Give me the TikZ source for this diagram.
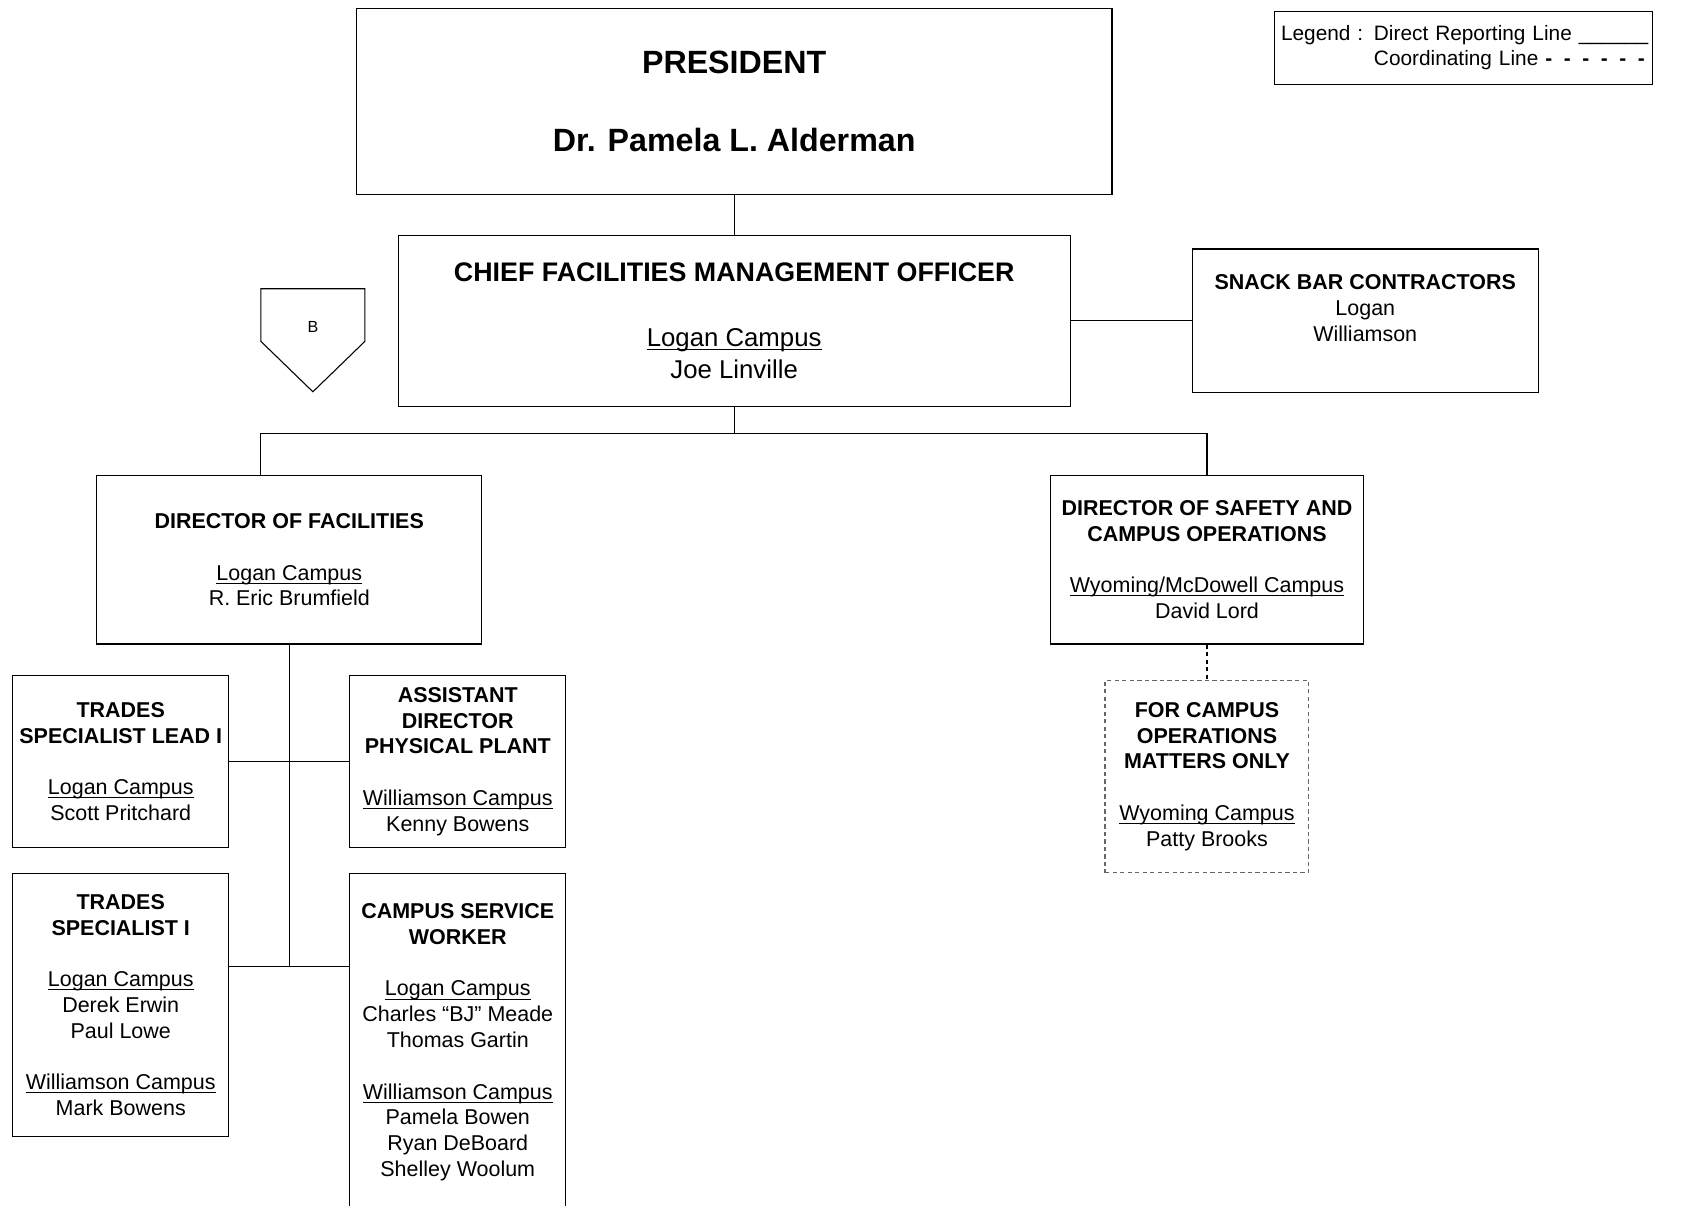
\documentclass[tikz,border=0pt]{standalone}
\usepackage{fontspec}
\setmainfont{Liberation Sans}
\usetikzlibrary{calc}
\usetikzlibrary{positioning}
\newcommand{\campus}[1]{\underline{\smash{#1}}}

\begin{document}
\begin{tikzpicture}[x=0.5pt, y=-0.5pt, line width=0.5pt,
        rolebox/.style={rectangle, draw=black, align=center, inner sep=2pt, font=\fontsize{10}{12}\selectfont},
        opsbox/.style={rolebox, draw=black!60, dash pattern=on 2pt off 1.5pt}]
        \useasboundingbox (0,0) rectangle (1568,1123);
        \clip (0,0) rectangle (1568,1123);

        \node[rolebox, minimum width=352pt, minimum height=86.5pt, font=\fontsize{15}{18}\selectfont\bfseries] (president) at (684,94.5) {PRESIDENT\\[18pt]Dr. Pamela L. Alderman};
        \node[rolebox, minimum width=313pt, minimum height=80pt, font=\fontsize{12}{15}\selectfont] (chief) [below=18.5pt of president] {{\fontsize{12.5}{15}\selectfont\bfseries CHIEF FACILITIES MANAGEMENT OFFICER}\\[15pt]\campus{Logan Campus}\\Joe Linville};
        \node[rolebox, minimum width=161pt, minimum height=67pt] (snack) [right=56.5pt of chief] {\textbf{SNACK BAR CONTRACTORS}\\Logan\\Williamson\\\phantom{Williamson}};
        \node[rolebox, minimum width=179.5pt, minimum height=78.5pt] (facilities) at (269.5,521.5) {\textbf{DIRECTOR OF FACILITIES}\\[12pt]\campus{Logan Campus}\\R. Eric Brumfield};
        \node[rolebox, minimum width=145.5pt, minimum height=78.5pt] (safety) at (1124.5,521.5) {\textbf{DIRECTOR OF SAFETY AND}\\\textbf{CAMPUS OPERATIONS}\\[12pt]\campus{Wyoming/McDowell Campus}\\David Lord};
        \node[opsbox, minimum width=95pt, minimum height=89.5pt] (campusops) [below=16.5pt of safety] {\textbf{FOR CAMPUS}\\\textbf{OPERATIONS}\\\textbf{MATTERS ONLY}\\[12pt]\campus{Wyoming Campus}\\Patty Brooks};
        \node[rolebox, minimum width=100.5pt, minimum height=80.5pt] (tradeslead) at (112.5,709.5) {\textbf{TRADES}\\\textbf{SPECIALIST LEAD I}\\[12pt]\campus{Logan Campus}\\Scott Pritchard};
        \node[rolebox, minimum width=100.5pt, minimum height=80.5pt] (assistant) [right=56pt of tradeslead] {\textbf{ASSISTANT}\\\textbf{DIRECTOR}\\\textbf{PHYSICAL PLANT}\\[12pt]\campus{Williamson Campus}\\Kenny Bowens};
        \node[rolebox, minimum width=100.5pt, minimum height=122.5pt] (trades) [below=11.5pt of tradeslead] {\textbf{TRADES}\\\textbf{SPECIALIST I}\\[12pt]\campus{Logan Campus}\\Derek Erwin\\Paul Lowe\\[12pt]\campus{Williamson Campus}\\Mark Bowens};
        \node[rolebox, minimum width=100.5pt, minimum height=157pt] (service) [below=11.5pt of assistant] {\textbf{CAMPUS SERVICE}\\\textbf{WORKER}\\[12pt]\campus{Logan Campus}\\Charles “BJ” Meade\\Thomas Gartin\\[12pt]\campus{Williamson Campus}\\Pamela Bowen\\Ryan DeBoard\\Shelley Woolum};
        \node[draw=black, anchor=north west, text width=170pt, minimum height=34pt, inner sep=3pt, align=left, font=\fontsize{9.7}{11.5}\selectfont] (legend) at (1187,10) {\raisebox{-1pt}{\begin{tabular}{@{}l@{\hspace{5pt}}l@{}}Legend : & Direct Reporting Line \_\_\_\_\_\_\\ & Coordinating Line \textbf{-\hspace{5.4pt}-\hspace{5.4pt}-\hspace{5.4pt}-\hspace{5.4pt}-\hspace{5.4pt}-}\end{tabular}}};

        \draw (243,269) -- (340,269) -- (340,318) -- (291.5,365) -- (243,318) -- cycle;
        \node[font=\fontsize{7.5}{9}\selectfont] (offpage) at (291.5,305) {B};

        \draw (president) -- (chief);
        \draw (chief) -- (snack);
        \draw (chief.south) -- ++(0,24) coordinate (bus);
        \coordinate (facin) at ($(facilities.north west)+(153,0)$);
        \draw (facin) |- (bus) -| (safety.north);
        \draw[dash pattern=on 2pt off 1.5pt] (safety) -- (campusops);
        \draw (facilities.south) -- ++(0,300) coordinate (trunk);
        \draw (tradeslead) -- (assistant);
        \draw (trades.east |- trunk) -- (service.west |- trunk);
    \end{tikzpicture}
\end{document}
